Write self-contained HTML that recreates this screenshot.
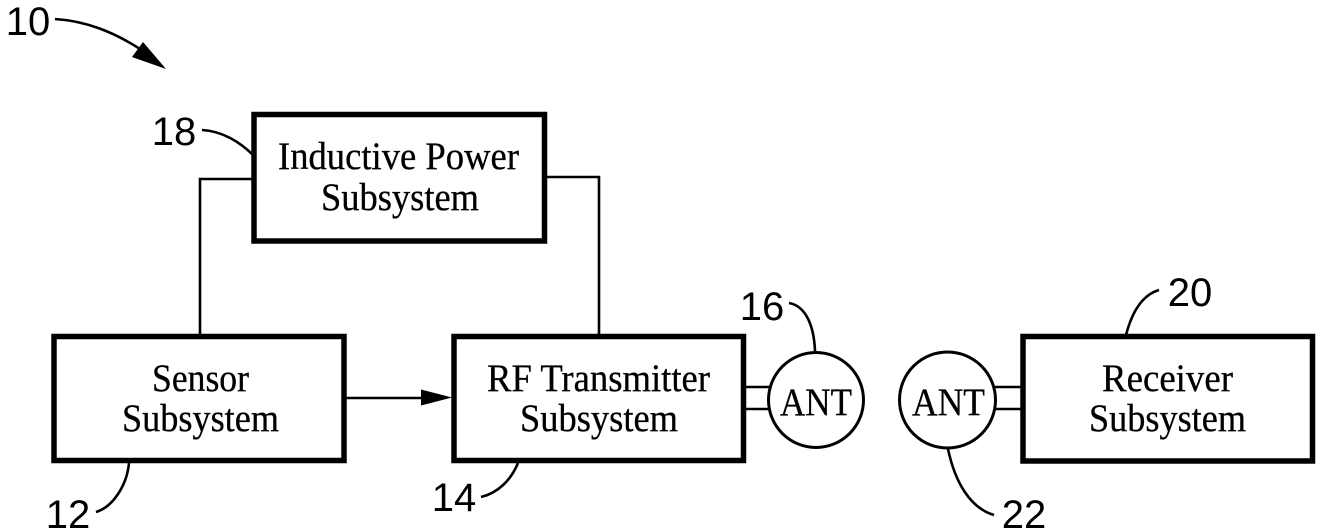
<!DOCTYPE html>
<html><head><meta charset="utf-8"><style>
html,body{margin:0;padding:0;background:#fff;width:1320px;height:531px;overflow:hidden}
svg{display:block}
.s{font-family:"Liberation Serif",serif;font-size:39px;fill:#000;stroke:#000;stroke-width:.3;text-anchor:start}
.n{font-family:"Liberation Sans",sans-serif;font-size:40px;fill:#000;text-anchor:middle}
.b{fill:#fff;stroke:#000;stroke-width:5.5}
.l{fill:none;stroke:#000;stroke-width:2.6}
</style></head><body>
<svg width="1320" height="531" viewBox="0 0 1320 531" xmlns="http://www.w3.org/2000/svg">
<text class="n" x="28" y="35">10</text>
<path class="l" d="M55 19C85 21 112 31 140 49" stroke-width="3"/>
<path d="M166 69L143 42L132 57Z" fill="#000"/>
<text class="n" x="174" y="145">18</text>
<path class="l" d="M202 130C222 131 240 142 253 155"/>
<path class="l" d="M254 179H200V335"/>
<path class="l" d="M545 177H599V335"/>
<rect class="b" x="254" y="114.5" width="290.5" height="126.5"/>
<text class="s" x="278" y="169" textLength="241" lengthAdjust="spacingAndGlyphs">Inductive Power</text>
<text class="s" x="321" y="210" textLength="158" lengthAdjust="spacingAndGlyphs">Subsystem</text>
<rect class="b" x="54" y="336.5" width="290" height="124"/>
<text class="s" x="152" y="391" textLength="97" lengthAdjust="spacingAndGlyphs">Sensor</text>
<text class="s" x="122" y="431" textLength="157" lengthAdjust="spacingAndGlyphs">Subsystem</text>
<rect class="b" x="454" y="336.5" width="289.5" height="124"/>
<text class="s" x="487" y="391" textLength="223" lengthAdjust="spacingAndGlyphs">RF Transmitter</text>
<text class="s" x="520" y="431" textLength="158" lengthAdjust="spacingAndGlyphs">Subsystem</text>
<path class="l" d="M346 398H425"/>
<path d="M452 397.5L421 389.5V405.5Z" fill="#000"/>
<path class="l" d="M129 463C127 485 113 507 96 512"/>
<text class="n" x="68" y="528">12</text>
<path class="l" d="M518 463C511 480 498 493 481 497"/>
<text class="n" x="454" y="511">14</text>
<path class="l" d="M745 387H772M745 409H772"/>
<circle cx="816" cy="400" r="47.5" fill="#fff" stroke="#000" stroke-width="3"/>
<text class="s" x="780" y="415" textLength="72" lengthAdjust="spacingAndGlyphs">ANT</text>
<text class="n" x="762" y="320">16</text>
<path class="l" d="M789 303C806 306 814 326 815 351"/>
<path class="l" d="M993 387H1022M993 409H1022"/>
<circle cx="947.5" cy="400" r="48" fill="#fff" stroke="#000" stroke-width="3"/>
<text class="s" x="912" y="415" textLength="73" lengthAdjust="spacingAndGlyphs">ANT</text>
<path class="l" d="M948 449C955 482 970 508 994 515"/>
<text class="n" x="1024" y="528">22</text>
<rect class="b" x="1023" y="336.5" width="289.5" height="124.5"/>
<text class="s" x="1102" y="391" textLength="131" lengthAdjust="spacingAndGlyphs">Receiver</text>
<text class="s" x="1089" y="431" textLength="157" lengthAdjust="spacingAndGlyphs">Subsystem</text>
<path class="l" d="M1126 335C1132 312 1142 295 1159 290"/>
<text class="n" x="1190" y="306">20</text>
</svg>
</body></html>
